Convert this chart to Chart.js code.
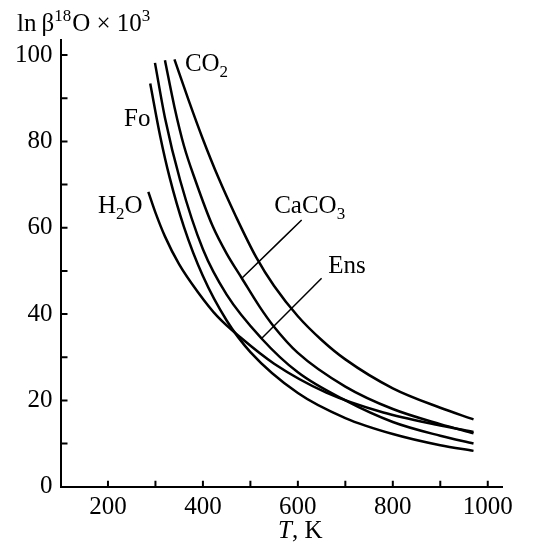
<!DOCTYPE html>
<html>
<head>
<meta charset="utf-8">
<script src="https://cdn.jsdelivr.net/npm/chart.js@4.4.0/dist/chart.umd.min.js"></script>
<style>
  body { margin: 0; background: #fff; }
  #wrap { width: 537px; height: 545px; }
</style>
</head>
<body>
<div id="wrap"><canvas id="mycanvas" width="537" height="545"></canvas></div>
<script>
// temperatures (K) and ln(beta 18O) x 10^3
var co2T   = [340, 370, 400, 433, 470, 513, 550, 600, 650, 700, 800, 900, 970];
var co2V   = [99, 89.5, 80.5, 71.5, 62.5, 53, 46.5, 39.5, 34, 29.5, 22.8, 18.3, 15.6];
var cacoT  = [320, 340, 360, 384, 420, 450, 482, 520, 548, 600, 700, 800, 900, 970];
var cacoV  = [98.8, 88, 79, 71, 60.5, 54, 48.3, 41.6, 37.3, 31, 23.2, 18, 14.5, 12.4];
var ensT   = [299, 320, 352, 400, 450, 523, 600, 700, 800, 900, 970];
var ensV   = [98.2, 85.5, 71, 55, 44.5, 34.4, 26.5, 20, 15, 11.8, 10.0];
var foT    = [289, 310, 330, 360, 400, 450, 500, 600, 700, 800, 900, 970];
var foV    = [93.4, 81.2, 71.6, 60.2, 48.8, 38.5, 31.2, 21.7, 15.9, 12.2, 9.6, 8.3];
var h2oT   = [285, 300, 320, 350, 390, 430, 480, 550, 660, 780, 900, 970];
var h2oV   = [68.3, 63.5, 58, 51.5, 45, 39.5, 34.5, 28.5, 21.8, 17.2, 14.2, 12.7];

// leader lines from labels to curves
var cacoLeaderT = [608, 482];
var cacoLeaderV = [61.8, 48.3];
var ensLeaderT  = [650, 524];
var ensLeaderV  = [48.3, 34.4];

var xTicks = [200, 300, 400, 500, 600, 700, 800, 900, 1000];
var yTicks = [10, 20, 30, 40, 50, 60, 70, 80, 90, 100];
var xLabels = [200, 400, 600, 800, 1000];
var yLabels = [0, 20, 40, 60, 80, 100];

var SERIF = '"Liberation Serif", "Times New Roman", serif';

function pts(xs, ys) {
	var out = [];
	for (var i in xs) out.push({x: xs[i], y: ys[i]});
	return out;
}

function curve(label, xs, ys, w) {
	return {
		label: label,
		data: pts(xs, ys),
		showLine: true,
		borderColor: "#000",
		borderWidth: w,
		pointRadius: 0,
		fill: false,
		cubicInterpolationMode: 'monotone'
	};
}

// draws text with sub/superscripts, left aligned on baseline
function rich(ctx, x, y, parts, size) {
	ctx.textAlign = 'left';
	ctx.textBaseline = 'alphabetic';
	for (var i in parts) {
		var p = parts[i];
		var fs = (p.sub || p.sup) ? Math.round(size * 0.68) : size;
		ctx.font = (p.it ? 'italic ' : '') + fs + 'px ' + SERIF;
		var dy = p.sub ? size * 0.22 : (p.sup ? -size * 0.42 : 0);
		ctx.fillText(p.t, x, y + dy);
		x += ctx.measureText(p.t).width + (p.gap || 0);
	}
	return x;
}

var curveLabels = [
	{T: 362, v: 96.3, parts: [{t: 'CO'}, {t: '2', sub: true}]},
	{T: 234, v: 83.6, parts: [{t: 'Fo'}]},
	{T: 179, v: 63.4, parts: [{t: 'H'}, {t: '2', sub: true}, {t: 'O'}]},
	{T: 550, v: 63.4, parts: [{t: 'CaCO'}, {t: '3', sub: true}]},
	{T: 664, v: 49.5, parts: [{t: 'Ens'}]}
];

var decor = {
	id: 'decor',
	afterDraw: function(chart) {
		var ctx = chart.ctx;
		var xs = chart.scales.x, ys = chart.scales.y;
		var area = chart.chartArea;
		ctx.save();
		ctx.strokeStyle = '#000';
		ctx.lineWidth = 2;
		ctx.beginPath();
		for (var i in xTicks) {
			var px = xs.getPixelForValue(xTicks[i]);
			ctx.moveTo(px, area.bottom);
			ctx.lineTo(px, area.bottom - 6);
		}
		for (var j in yTicks) {
			var py = ys.getPixelForValue(yTicks[j]);
			ctx.moveTo(area.left, py);
			ctx.lineTo(area.left + 7, py);
		}
		ctx.stroke();

		ctx.fillStyle = '#000';
		for (var k in curveLabels) {
			var l = curveLabels[k];
			rich(ctx, xs.getPixelForValue(l.T), ys.getPixelForValue(l.v), l.parts, 25);
		}
		// axis titles
		rich(ctx, 17, 31, [{t: 'ln\u2009\u03B2'}, {t: '18', sup: true, gap: 1}, {t: 'O \u00D7 10'}, {t: '3', sup: true}], 25);
		rich(ctx, 278, 538, [{t: 'T', it: true}, {t: ', K'}], 25);
		ctx.restore();
	}
};

var ctx = document.getElementById('mycanvas');

var chart = new Chart(ctx, {
	type: 'scatter',
	data: {
		datasets: [
			curve('CO2', co2T, co2V, 2.5),
			curve('CaCO3', cacoT, cacoV, 2.5),
			curve('Ens', ensT, ensV, 2.5),
			curve('Fo', foT, foV, 2.5),
			curve('H2O', h2oT, h2oV, 2.5),
			curve('CaCO3 leader', cacoLeaderT, cacoLeaderV, 1.5),
			curve('Ens leader', ensLeaderT, ensLeaderV, 1.5)
		]
	},
	options: {
		responsive: false,
		animation: false,
		layout: { padding: { top: 40, right: 35, left: 0, bottom: 0 } },
		plugins: {
			legend: { display: false },
			tooltip: { enabled: false }
		},
		scales: {
			x: {
				type: 'linear',
				min: 100,
				max: 1030,
				afterFit: function(s) { s.height = 58.3; },
				afterBuildTicks: function(s) { s.ticks = xLabels.map(function(v) { return {value: v}; }); },
				grid: { display: false, drawTicks: false },
				border: { display: true, color: '#000', width: 2 },
				ticks: {
					padding: 6,
					color: '#000',
					font: { family: SERIF, size: 25 },
					maxRotation: 0,
					autoSkip: false,
					callback: function(v) { return String(v); }
				}
			},
			y: {
				min: 0,
				max: 103.5,
				afterFit: function(s) { s.width = 60.5; },
				afterBuildTicks: function(s) { s.ticks = yLabels.map(function(v) { return {value: v}; }); },
				grid: { display: false, drawTicks: false },
				border: { display: true, color: '#000', width: 2 },
				ticks: {
					padding: 8,
					color: '#000',
					font: { family: SERIF, size: 25 },
					autoSkip: false,
					callback: function(v) { return String(v); }
				}
			}
		}
	},
	plugins: [decor]
});
</script>
</body>
</html>
